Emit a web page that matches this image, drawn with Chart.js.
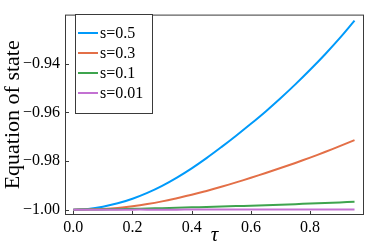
<!DOCTYPE html>
<html>
<head>
<meta charset="utf-8">
<script src="https://cdn.jsdelivr.net/npm/chart.js@4"></script>
<style>
  html, body { margin: 0; padding: 0; background: #fff; }
  #wrap { width: 371px; height: 247px; }
</style>
</head>
<body>
<div id="wrap"><canvas id="c"></canvas></div>
<script>
// tau values and equation of state for each s
const tau = [0, 0.05, 0.1, 0.15, 0.2, 0.25, 0.3, 0.35, 0.4, 0.45, 0.5,
             0.55, 0.6, 0.65, 0.7, 0.75, 0.8, 0.85, 0.9, 0.95];
const w05 = [-1.0, -0.9997, -0.9988, -0.9974, -0.9955, -0.9931, -0.9902, -0.9868, -0.9830, -0.9788, -0.9743,
             -0.9696, -0.9647, -0.9596, -0.9542, -0.9485, -0.9425, -0.9362, -0.9295, -0.9223];
const w03 = [-1.0, -0.9999, -0.9997, -0.9993, -0.9986, -0.9977, -0.9966, -0.9953, -0.9939, -0.9923, -0.9906,
             -0.9888, -0.9869, -0.9849, -0.9829, -0.9808, -0.9786, -0.9763, -0.9739, -0.9714];
const w01 = [-1.0, -0.99997, -0.9999, -0.9998, -0.99968, -0.99954, -0.99939, -0.99923, -0.99906, -0.99889, -0.99872,
             -0.99854, -0.99836, -0.99816, -0.99795, -0.99773, -0.99750, -0.99726, -0.99701, -0.99675];
const w001 = [-1.0, -1.0, -1.0, -1.0, -0.99999, -0.99999, -0.99999, -0.99999, -0.99998, -0.99998, -0.99998,
              -0.99998, -0.99997, -0.99997, -0.99997, -0.99997, -0.99997, -0.99996, -0.99996, -0.99996];
const seriesLabels = ['s=0.5', 's=0.3', 's=0.1', 's=0.01'];
const xTicks = [0.0, 0.2, 0.4, 0.6, 0.8];
const yTicks = [-1.00, -0.98, -0.96, -0.94];

const colors = ['#009AFA', '#E36F47', '#3EA44E', '#C371D2'];
const serif = '"Liberation Serif", "Times New Roman", serif';
const frameColor = '#3a3a3a';

const pts = ys => tau.map((t, i) => ({ x: t, y: ys[i] }));

const frame = {
  id: 'frame',
  afterDraw(chart) {
    const { ctx, chartArea: a, scales: { x, y } } = chart;
    ctx.save();
    ctx.strokeStyle = frameColor;
    ctx.lineWidth = 1;
    ctx.strokeRect(a.left + 0.5, a.top + 0.5, a.right - a.left - 1, a.bottom - a.top - 1);
    // inward ticks
    ctx.beginPath();
    xTicks.forEach(v => {
      const px = Math.round(x.getPixelForValue(v)) + 0.5;
      ctx.moveTo(px, a.bottom);
      ctx.lineTo(px, a.bottom - 4);
    });
    yTicks.forEach(v => {
      const py = Math.round(y.getPixelForValue(v)) + 0.5;
      ctx.moveTo(a.left, py);
      ctx.lineTo(a.left + 4, py);
    });
    ctx.stroke();

    // legend box
    const lx = 75, ly = 14, lw = 77, lh = 99;
    ctx.fillStyle = '#fff';
    ctx.fillRect(lx, ly, lw, lh);
    ctx.strokeRect(lx + 0.5, ly + 0.5, lw, lh);
    ctx.font = '16px ' + serif;
    ctx.textBaseline = 'middle';
    ctx.textAlign = 'left';
    chart.data.datasets.forEach((ds, i) => {
      const ry = 33 + i * 20;
      ctx.strokeStyle = ds.borderColor;
      ctx.lineWidth = 2;
      ctx.beginPath();
      ctx.moveTo(78, ry);
      ctx.lineTo(98, ry);
      ctx.stroke();
      ctx.fillStyle = '#000';
      ctx.fillText(ds.label, 100, ry + 1);
    });
    ctx.restore();
  }
};

new Chart(document.getElementById('c'), {
  type: 'line',
  data: {
    datasets: [w05, w03, w01, w001].map((ys, i) => ({
      label: seriesLabels[i],
      data: pts(ys),
      borderColor: colors[i],
      borderWidth: 2,
      pointRadius: 0,
      fill: false,
      tension: 0.4,
      order: 4 - i
    }))
  },
  options: {
    responsive: true,
    maintainAspectRatio: false,
    animation: false,
    layout: { padding: { left: 0, right: 7, top: 7, bottom: 0 } },
    plugins: { legend: { display: false }, tooltip: { enabled: false } },
    scales: {
      x: {
        type: 'linear',
        min: -0.028,
        max: 0.982,
        afterBuildTicks: s => { s.ticks = xTicks.map(v => ({ value: v })); },
        afterFit: s => { s.height = 32; },
        grid: { display: false, drawTicks: false },
        border: { display: false },
        ticks: {
          padding: 3,
          color: '#000',
          font: { family: serif, size: 16 },
          maxRotation: 0,
          callback: v => v.toFixed(1)
        },
        title: {
          display: true,
          text: 'τ',
          color: '#000',
          font: { family: serif, size: 21, style: 'italic', lineHeight: 1 },
          padding: { top: 0, bottom: 1 }
        }
      },
      y: {
        type: 'linear',
        min: -1.0022,
        max: -0.9198,
        afterBuildTicks: s => { s.ticks = yTicks.map(v => ({ value: v })); },
        afterFit: s => { s.width = 65; },
        grid: { display: false, drawTicks: false },
        border: { display: false },
        ticks: {
          padding: 5,
          color: '#000',
          font: { family: serif, size: 16 },
          callback: v => v.toFixed(2).replace('-', '\u2212')
        },
        title: {
          display: true,
          text: 'Equation of state',
          color: '#000',
          font: { family: serif, size: 22, lineHeight: 1 },
          padding: { top: 2, bottom: 0 }
        }
      }
    }
  },
  plugins: [frame]
});
</script>
</body>
</html>
